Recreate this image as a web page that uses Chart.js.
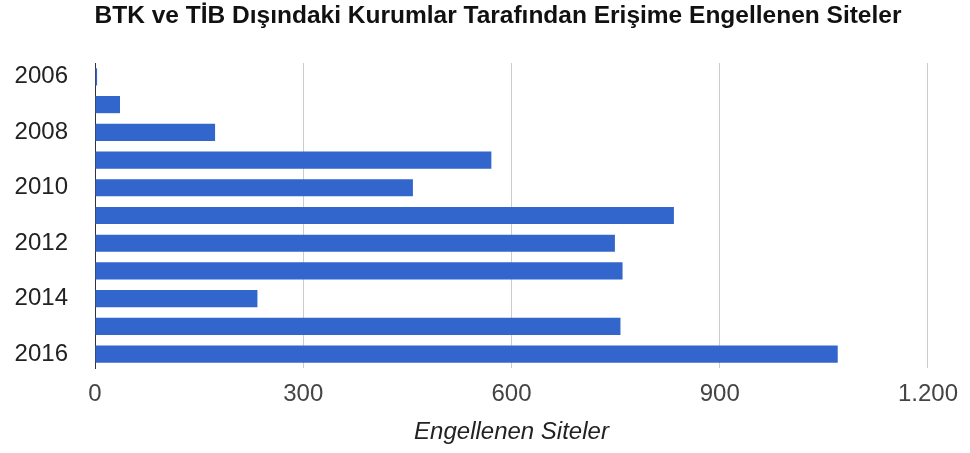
<!DOCTYPE html>
<html>
<head>
<meta charset="utf-8">
<script src="https://cdn.jsdelivr.net/npm/chart.js@4/dist/chart.umd.min.js"></script>
<style>
  body { margin: 0; background: #fff; }
  #wrap { width: 970px; height: 453px; }
</style>
</head>
<body>
<div id="wrap"><canvas id="myChart" width="970" height="453"></canvas></div>
<script>
// years on the vertical axis
const years = ['2006', '2007', '2008', '2009', '2010', '2011', '2012', '2013', '2014', '2015', '2016'];
// blocked sites per year
const blocked = [3, 36, 173, 571, 458, 834, 749, 760, 234, 757, 1070];
// x axis ticks
const xTicks = [0, 300, 600, 900, 1200];

const chartTitle = 'BTK ve TİB Dışındaki Kurumlar Tarafından Erişime Engellenen Siteler';
const axisTitle = 'Engellenen Siteler';

const fontFam = 'Liberation Sans, Arial, sans-serif';

function trNumber(v) {
    return String(v).replace(/\B(?=(\d{3})+(?!\d))/g, '.');
}

// title sits a bit right of the canvas centre, like the original
const topTitle = {
    id: 'topTitle',
    afterDraw: function (chart) {
        const c = chart.ctx;
        c.save();
        c.font = 'bold 24.5px ' + fontFam;
        c.fillStyle = '#111';
        c.textAlign = 'center';
        c.textBaseline = 'middle';
        c.fillText(chartTitle, chart.width / 2 + 13, 16);
        c.restore();
    }
};

const ctx = document.getElementById('myChart').getContext('2d');
const myChart = new Chart(ctx, {
    type: 'bar',
    data: {
        labels: years,
        datasets: [{
            label: axisTitle,
            data: blocked,
            backgroundColor: '#3366cc',
            borderWidth: 0,
            categoryPercentage: 1,
            barPercentage: 0.62
        }]
    },
    plugins: [topTitle],
    options: {
        indexAxis: 'y',
        responsive: false,
        animation: false,
        layout: { padding: { left: 0, right: 41, top: 63, bottom: 0 } },
        plugins: {
            legend: { display: false },
            tooltip: { enabled: false },
            title: { display: false }
        },
        scales: {
            x: {
                min: xTicks[0],
                max: xTicks[xTicks.length - 1],
                afterBuildTicks: function (scale) {
                    scale.ticks = xTicks.map(v => ({ value: v }));
                },
                afterFit: function (scale) { scale.height = 85; },
                grid: { color: '#cccccc', drawTicks: false },
                border: { display: false },
                ticks: {
                    color: '#444',
                    padding: 12,
                    font: { family: fontFam, size: 24 },
                    callback: function (v) { return trNumber(v); }
                },
                title: {
                    display: true,
                    text: axisTitle,
                    color: '#222',
                    font: { family: fontFam, size: 24, style: 'italic' },
                    padding: { top: 0, bottom: 6 }
                }
            },
            y: {
                afterFit: function (scale) { scale.width = 95; },
                grid: { display: false, drawTicks: false },
                border: { display: true, color: '#333', width: 1 },
                ticks: {
                    autoSkip: false,
                    color: '#222',
                    padding: 27,
                    font: { family: fontFam, size: 24 },
                    callback: function (v, i) { return i % 2 === 0 ? years[i] : ''; }
                }
            }
        }
    }
});
</script>
</body>
</html>
